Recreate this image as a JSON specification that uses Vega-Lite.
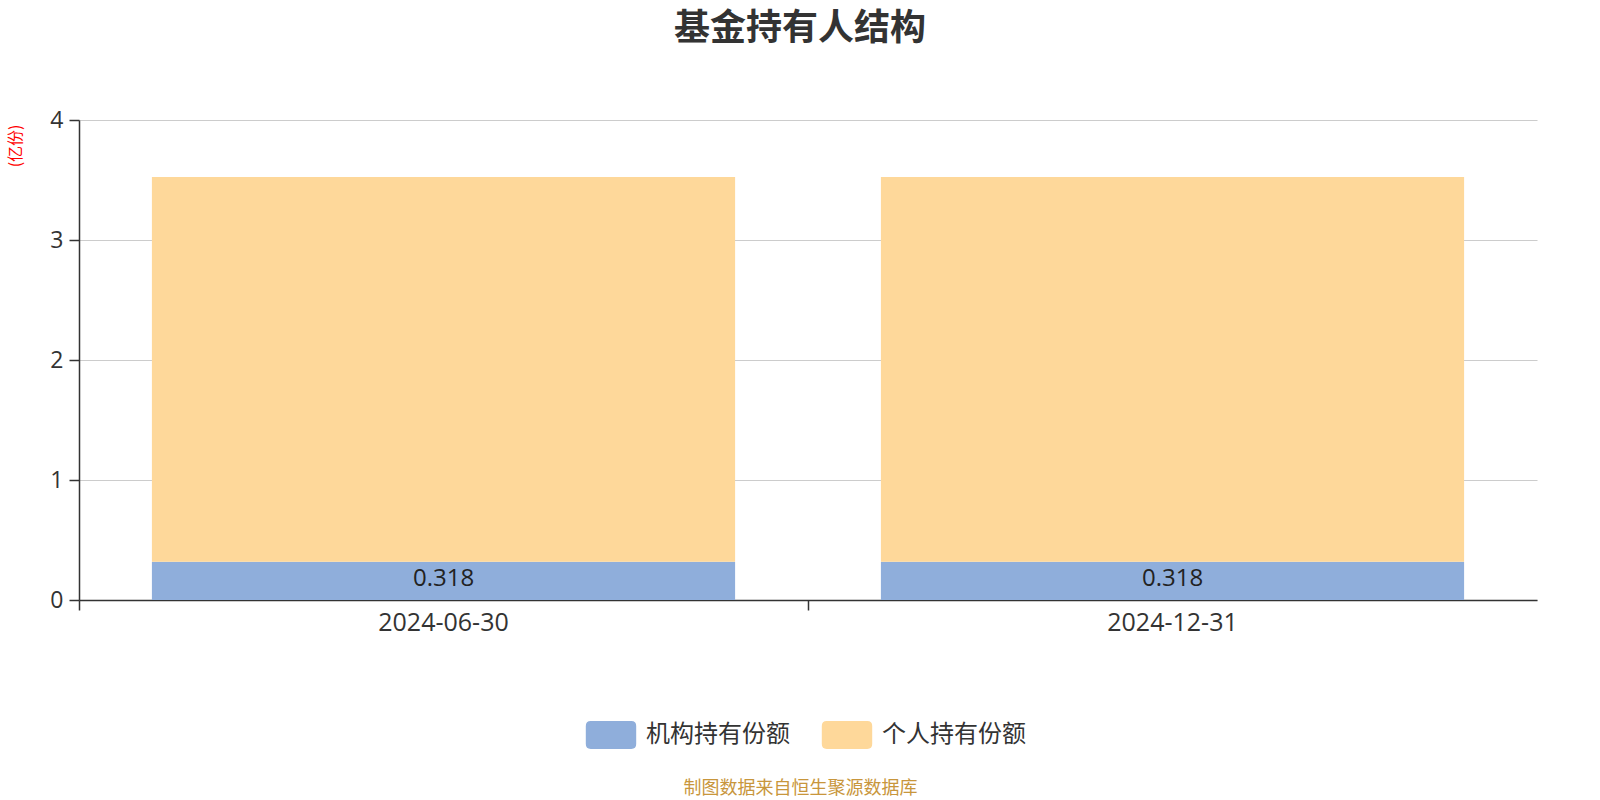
{
  "$schema": "https://vega.github.io/schema/vega-lite/v6.json",
  "width": 1458,
  "height": 480,
  "autosize": {"type": "none"},
  "padding": {"left": 79, "top": 120, "right": 63, "bottom": 200},
  "config": {"font": "Open Sans, Noto Sans CJK SC", "view": {"stroke": null}},
  "title": {"text": "基金持有人结构", "fontSize": 36, "fontWeight": "bold", "color": "#333333", "font": "Noto Sans CJK SC", "offset": 61, "dx": -8, "anchor": "middle"},
  "data": {"values": [
    {"date": "2024-06-30", "type": "机构持有份额", "value": 0.318},
    {"date": "2024-06-30", "type": "个人持有份额", "value": 3.207},
    {"date": "2024-12-31", "type": "机构持有份额", "value": 0.318},
    {"date": "2024-12-31", "type": "个人持有份额", "value": 3.207}
  ]},
  "layer": [
    {
      "mark": {"type": "bar", "width": {"band": 0.8}},
      "encoding": {
        "x": {"field": "date", "type": "nominal", "scale": {"paddingInner": 0, "paddingOuter": 0},
          "axis": {"orient": "bottom", "title": "制图数据来自恒生聚源数据库", "titleColor": "#C8963C", "titleFontSize": 18, "titleFontWeight": "normal", "titleFont": "Noto Sans CJK SC", "titleX": 721, "titleY": 188, "titleBaseline": "middle", "titleAlign": "center", "labelAngle": 0, "labelFontSize": 25, "labelColor": "#333333", "labelPadding": 10, "ticks": false, "domain": true, "domainColor": "#333333", "domainWidth": 1.5, "grid": false}},
        "y": {"field": "value", "type": "quantitative", "stack": "zero", "scale": {"domain": [0, 4]},
          "axis": {"title": "(亿份)", "titleAngle": -90, "titleColor": "red", "titleFontSize": 16, "titleFontWeight": "normal", "titleFont": "Noto Sans CJK SC", "titleX": -64, "titleY": 4, "titleAlign": "right", "titleBaseline": "middle", "values": [0, 1, 2, 3, 4], "format": "d", "labelFontSize": 23, "labelColor": "#333333", "labelPadding": 6, "tickSize": 10, "tickColor": "#333333", "tickWidth": 1.5, "domainColor": "#333333", "domainWidth": 1.5, "gridColor": "#CCCCCC", "gridWidth": 1.2}},
        "color": {"field": "type", "type": "nominal",
          "scale": {"domain": ["机构持有份额", "个人持有份额"], "range": ["#8FAEDB", "#FED89A"]},
          "legend": {"orient": "none", "legendX": 518, "legendY": 601, "direction": "horizontal", "title": null, "padding": 0,
            "symbolType": "M-1.45,-1 H1.45 Q1.8,-1 1.8,-0.65 V0.65 Q1.8,1 1.45,1 H-1.45 Q-1.8,1 -1.8,0.65 V-0.65 Q-1.8,-1 -1.45,-1 Z",
            "symbolSize": 784, "symbolOpacity": 1, "symbolStrokeWidth": 0, "labelFontSize": 24, "labelColor": "#333333", "labelFont": "Noto Sans CJK SC", "labelOffset": 21, "columnPadding": 31}},
        "order": {"field": "type", "sort": "descending"}
      }
    },
    {
      "transform": [{"filter": "datum.type === '机构持有份额'"}],
      "mark": {"type": "text", "baseline": "top", "dy": 5, "fontSize": 24, "color": "#222222"},
      "encoding": {
        "x": {"field": "date", "type": "nominal",
          "axis": {"orient": "bottom", "title": null, "labels": false, "ticks": true, "tickSize": 10, "tickColor": "#333333", "tickWidth": 1.5, "bandPosition": 0, "domain": false, "grid": false}},
        "y": {"field": "value", "type": "quantitative"},
        "text": {"field": "value", "type": "quantitative", "format": ".3f"}
      }
    }
  ],
  "resolve": {"axis": {"x": "independent"}}
}
